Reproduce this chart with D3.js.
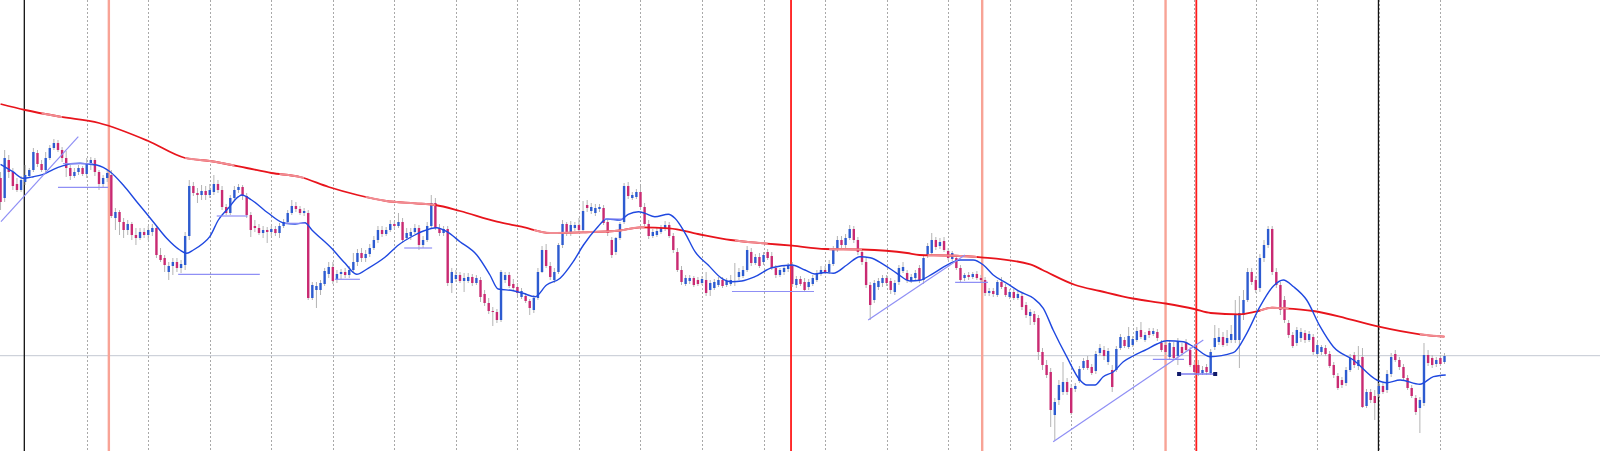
<!DOCTYPE html>
<html><head><meta charset="utf-8">
<script src="https://cdn.jsdelivr.net/npm/d3@7"></script>
<style>html,body{margin:0;padding:0;background:#fff;overflow:hidden}svg{display:block}</style>
</head><body><svg id="c" width="1600" height="451"></svg>
<script>
// price values (arbitrary points) per bar
const openP = [
322,302,340,328,316,310,318,324,330,347, 336,330,342,352,357,350,342,332,324,328,
332,326,337,340,328,316,322,325,282,288, 278,270,276,265,262,268,265,268,272,245,
242,228,234,238,232,235,264,314,307,305, 309,305,308,316,310,293,287,302,310,313,
304,285,274,272,267,270,268,271,267,274, 278,287,294,291,287,287,202,210,210,216,
226,233,220,226,228,225,230,238,247,242, 246,252,260,270,266,270,276,274,278,262,
264,268,272,255,260,274,297,272,267,271, 217,221,225,219,219,223,217,220,206,197,
189,188,180,220,225,216,213,203,204,199, 190,202,228,250,234,220,228,255,276,267,
272,275,270,295,289,287,291,292,278,260, 248,262,278,314,302,303,308,293,276,264,
265,268,271,275,264,248,230,216,219,222, 220,217,220,210,212,215,220,215,216,219,
223,224,230,248,237,243,238,248,244,232, 225,228,231,234,215,221,218,213,216,220,
226,230,228,236,250,260,255,262,271,260, 248,238,215,200,213,217,222,219,208,218,
229,227,219,222,232,220,244,247,260,254, 259,249,241,242,232,222,225,223,226,222,
220,207,209,205,218,213,203,208,202,204, 195,184,186,182,148,135,128,85,100,108,
118,112,111,119,132,140,133,129,147,150, 138,130,130,152,160,153,155,160,170,160,
169,166,168,157,155,143,153,144,153,158, 150,135,135,127,133,127,153,158,163,157,
160,160,160,185,200,228,220,212,242,255, 271,228,215,200,177,165,157,162,167,160,
163,146,148,152,146,135,124,120,117,130, 145,134,143,94,108,104,106,114,110,126,
146,140,133,122,112,102,92,97,145,142, 136,142,138];
const highP = [
328,350,345,332,322,324,335,332,352,350, 340,348,355,361,360,353,349,335,332,335,
334,342,343,342,330,325,330,330,292,290, 282,280,278,272,272,272,274,276,274,252,
245,238,242,242,240,268,320,318,312,315, 314,316,325,320,314,296,305,314,316,315,
307,288,280,276,274,273,274,274,277,281, 290,300,298,294,292,290,218,218,220,232,
238,238,230,231,232,234,247,251,252,250, 256,264,274,274,273,280,279,287,282,272,
272,276,275,264,278,305,302,276,274,274, 232,230,228,227,227,226,225,223,210,202,
193,191,230,228,228,221,217,212,207,201, 205,232,254,256,238,232,257,280,278,279,
278,282,299,300,297,296,296,295,281,263, 263,278,317,318,308,311,314,297,280,271,
272,275,279,278,267,252,234,225,225,224, 223,224,228,220,221,223,223,222,225,237,
232,234,254,252,246,247,248,251,248,235, 232,235,237,238,224,224,222,221,225,230,
234,234,240,254,264,264,266,275,274,263, 251,242,218,220,222,225,225,222,220,235,
238,230,226,230,235,245,257,267,263,262, 263,252,249,245,235,227,228,228,229,225,
223,212,212,220,223,216,211,211,209,207, 198,191,189,185,152,140,132,102,120,138,
122,116,117,134,142,144,136,149,156,154, 152,135,154,166,163,173,164,173,178,168,
172,172,171,160,159,160,158,162,157,161, 153,138,140,134,136,151,175,172,168,170,
175,200,204,210,232,232,224,246,260,274, 274,232,218,204,180,168,173,172,170,169,
166,158,155,155,149,138,127,123,133,146, 148,154,152,111,111,110,117,118,130,147,
150,143,136,125,115,105,103,157,150,145, 143,145,147];
const lowP = [
290,298,322,310,308,308,315,322,328,333, 328,328,340,350,348,338,323,320,322,325,
324,322,330,324,310,312,318,282,270,265, 262,265,260,255,260,262,260,264,242,238,
228,220,225,228,227,230,260,304,297,300, 300,302,305,307,290,285,285,300,307,300,
282,263,268,265,262,257,264,264,262,272, 276,285,288,285,284,200,200,192,205,214,
222,216,217,221,222,222,228,234,238,238, 243,250,257,263,264,268,271,272,257,260,
260,266,250,252,258,272,270,264,264,214, 207,218,217,208,217,214,215,198,194,186,
174,177,178,217,212,209,204,201,197,185, 187,200,227,232,220,217,226,252,264,264,
269,268,267,288,286,284,288,275,264,242, 245,260,276,301,300,301,290,274,261,262,
263,266,269,262,247,228,215,214,216,213, 214,215,204,204,210,213,212,213,214,214,
220,222,228,234,235,232,235,240,230,222, 223,225,228,213,212,214,208,210,214,218,
224,226,226,234,248,252,252,260,257,245, 235,212,180,197,210,213,214,206,205,215,
227,217,217,219,217,216,242,245,250,251, 248,240,239,230,218,219,220,221,220,217,
204,204,203,203,211,203,201,200,200,190, 182,175,175,140,130,122,73,60,95,105,
105,85,108,117,130,130,125,126,145,140, 135,108,128,150,152,151,153,158,161,158,
162,164,159,148,145,141,140,135,144,148, 133,125,124,125,125,125,150,155,153,154,
157,157,132,180,198,215,207,208,238,252, 225,212,185,177,162,152,154,158,157,158,
145,143,145,144,132,122,110,112,114,128, 132,130,92,92,97,80,103,106,107,123,
138,130,120,110,102,85,67,94,134,132, 133,134,136];
const closeP = [
298,342,328,314,310,320,325,330,348,336, 330,342,352,357,350,342,332,324,328,332,
326,337,340,328,316,322,327,284,288,278, 270,276,265,262,268,265,270,272,245,240,
235,234,238,232,236,264,314,307,305,309, 305,310,316,310,293,287,302,310,313,304,
285,270,272,267,270,268,271,267,274,278, 287,294,291,287,289,202,215,214,217,229,
233,219,226,228,225,230,238,247,242,246, 252,260,270,266,270,276,274,278,260,267,
268,272,255,260,274,297,272,267,271,217, 228,225,219,222,223,217,222,203,197,189,
188,180,228,225,214,212,207,209,199,192, 202,228,250,234,223,228,255,276,267,275,
275,270,289,292,293,292,293,277,267,245, 262,276,314,304,305,308,293,276,264,268,
269,272,275,264,250,230,218,222,222,215, 216,221,207,217,218,220,214,219,220,218,
228,230,250,237,243,234,245,242,232,225, 230,232,234,216,221,216,210,218,222,227,
230,228,236,250,260,255,262,271,260,248, 238,215,195,217,219,222,217,210,217,232,
233,220,223,227,220,242,254,260,253,258, 250,242,247,232,220,225,223,226,222,220,
207,209,206,218,213,205,208,202,206,193, 185,188,178,148,135,125,90,98,115,118,
108,87,114,131,139,132,127,146,152,144, 149,113,151,163,154,164,161,169,163,165,
165,169,162,150,148,157,142,158,147,150, 135,128,127,130,128,148,162,163,155,162,
166,185,187,200,228,218,210,242,255,271, 228,215,190,180,165,154,170,168,160,166,
148,155,153,146,134,125,112,115,130,142, 135,140,93,108,100,97,114,108,126,143,
140,133,122,112,104,88,100,145,137,135, 140,136,144];

// fast moving average (blue), sampled at bar positions
const blueIdx = [0,3,5.5,8,10.4,12.9,15.3,17,19.4,21.8,23.4,26.7,29.9,33.2,37.2,40.5,43.7,45.4,47,49.4,51,53.1,55.5,58,58.8,61.2,65.3,69.3,71.8,74.2,75.9,80.7,84,86.8,89.6,93.7,97,101,103.1,106.3,108.8,112,116.1,119.3,121.3,125,127.4,130.3,133.1,136.4,139.6,142.1,145.3,147.8,151,153,155.5,157.1,159.5,162.8,164.4,166.9,169.3,172.5,175.8,178.2,180.7,183.9,188,192.9,196.1,198.5,201,203,206.3,209.5,212,215.2,218.5,221.7,224.1,227.4,231.5,233.9,237.1,239.6,242,245.3,248.5,251.8,254.2,256.6,259.9,263.1,264.8,266.8,268.8,271.3,273.7,276.1,279.4,281.9,284.3,288.3,290.8,294.8,300.5,303.8,307,310.3,312.7,315.2,318.4,321.7,324.9,329.8,335.5,337.9,341.2,346,349.3,352.3];
const blueVal = [335.7,328.3,321.7,323.3,325.7,330.7,334.3,336.3,336.7,335.7,335,328.3,315,298.3,278.3,261.7,250,246.7,250,256.7,263.3,280,291.7,303.3,305,300,286.7,276.7,276,277.3,270,251.7,236.7,225.7,231.7,242.7,255,265,269,272.3,268.3,258.3,245,225,211,209.3,206.7,203.3,215,221.7,238.3,255,271.7,281,280,285.7,288.3,286.7,283.3,285.7,281.7,266.7,248.3,235,221.7,218.3,219,223.3,232.3,235,230,226,227.5,226.7,235,243.3,242.3,235.7,226.7,219,219.7,226.7,236.7,240,240,235,225,216.7,208.3,201.7,191.7,170,143.3,120,115,115,123.3,128.3,138.3,144,150.7,156,159.3,158.3,153.3,143.3,147.3,166.7,193.3,214,220,213.3,200,173.3,153.3,140,120,117.3,120,115.7,123.3,125];

// slow moving average (red)
const redIdx = [0,6,14.5,24,36,45,51,60,66,73,80,87,94,101,106,112,121,127,134,142,151,156,163,170,178,186,193,201,210,221,224,231,239,251,254,262,268,276,284,291,295,302,306,310,313,320,328,336,346,352];
const redVal = [396,390,383.3,377,359,342,339,332,327,323,313,305,299,296.7,295,289,278.3,273.3,267,267.7,269.5,272.7,271.7,266,260,256.7,254.3,251,250.5,247,245,244.5,242.7,235.7,230,215,209,201.5,196.5,191,187,185.7,188.3,192.3,191.7,189,181.7,173.3,165.7,163.3];
const redPaleRanges = [[10,15],[45,57],[68,74],[89,106],[130,157],[179,187],[202,210],[226,238],[307,314],[346,352]];

// drawn objects: trendlines / levels [bar1, price1, bar2, price2]
const trendLines = [
  [0.1,278.3,18.95,363.3],
  [14,312.7,26.2,312.7],
  [15.2,336.3,22.5,336.3],
  [43.3,225.7,63.2,225.7],
  [52.7,284,60.2,284],
  [69.3,276.7,74.2,276.7],
  [81.5,220.7,87.6,220.7],
  [98.4,252,105.2,252],
  [147.1,281,151.7,281],
  [178.3,208.5,198.3,208.5],
  [211.5,180,235.1,245],
  [232.7,217.7,240.7,217.7],
  [256.6,58.3,293.2,160],
  [280.9,140.7,288.5,140.7]
];
const markedLevel = [287.3,126,296.1,126];
const bidLevel = 144.3;
// vertical event markers [bar, kind]
const eventBars = [[5.79,'black'],[26.4,'pale'],[192.7,'red'],[239.3,'pale'],[284.0,'pale'],[291.5,'red'],[335.9,'black']];
const gridBars = d3.range(21, 353, 15);

const W = 1600, H = 451;
const svg = d3.select('#c');
const x = d3.scaleLinear().domain([0, 352]).range([0.56, 1444.5]);
const y = d3.scaleLinear().domain([49, 500]).range([H, 0]);

// grid
svg.append('g').selectAll('line').data(gridBars).join('line')
  .attr('x1', d => Math.round(x(d)) + 0.5).attr('x2', d => Math.round(x(d)) + 0.5)
  .attr('y1', 0).attr('y2', H)
  .attr('stroke', '#a9a9a9').attr('stroke-width', 1).attr('stroke-dasharray', '2,2');

// bid line
svg.append('line').attr('x1', 0).attr('x2', W).attr('y1', y(bidLevel)).attr('y2', y(bidLevel))
  .attr('stroke', '#c3c8d2').attr('stroke-width', 1);

// event lines
const evStyle = {black: ['#111', 1.3], red: ['#ff1a1a', 1.8], pale: ['#f8a396', 2.4]};
svg.append('g').selectAll('line').data(eventBars).join('line')
  .attr('x1', d => x(d[0])).attr('x2', d => x(d[0]))
  .attr('y1', 0).attr('y2', H)
  .attr('stroke', d => evStyle[d[1]][0]).attr('stroke-width', d => evStyle[d[1]][1]);

// candles
const bars = d3.range(openP.length).map(i => ({i, o: openP[i], h: highP[i], l: lowP[i], c: closeP[i]}));
const g = svg.append('g');
g.selectAll('line.w').data(bars).join('line').attr('class', 'w')
  .attr('x1', d => x(d.i)).attr('x2', d => x(d.i))
  .attr('y1', d => y(Math.max(d.h, d.o, d.c))).attr('y2', d => y(Math.min(d.l, d.o, d.c)))
  .attr('stroke', '#b4b4b4').attr('stroke-width', 1);
g.selectAll('rect').data(bars).join('rect')
  .attr('x', d => x(d.i) - 1.2).attr('width', 2.4)
  .attr('y', d => y(Math.max(d.o, d.c)))
  .attr('height', d => Math.max(1, Math.abs(y(d.o) - y(d.c))))
  .attr('fill', d => d.c >= d.o ? '#2d5bd0' : '#c92a72');

// moving averages
const redPts = redIdx.map((d, k) => [d, redVal[k]]);
const bluePts = blueIdx.map((d, k) => [d, blueVal[k]]);
const line = d3.line().x(d => x(d[0])).y(d => y(d[1])).curve(d3.curveMonotoneX);
const defs = svg.append('defs');
const cp = defs.append('clipPath').attr('id', 'pale');
cp.selectAll('rect').data(redPaleRanges).join('rect')
  .attr('x', d => x(d[0])).attr('width', d => x(d[1]) - x(d[0]))
  .attr('y', 0).attr('height', H);
svg.append('path').attr('d', line(redPts)).attr('fill', 'none')
  .attr('stroke', '#e8141c').attr('stroke-width', 1.8);
svg.append('path').attr('d', line(redPts)).attr('fill', 'none')
  .attr('stroke', '#f08c92').attr('stroke-width', 2).attr('clip-path', 'url(#pale)');
svg.append('path').attr('d', line(bluePts)).attr('fill', 'none')
  .attr('stroke', '#1f48e0').attr('stroke-width', 1.4);

// trendlines
svg.append('g').selectAll('line').data(trendLines).join('line')
  .attr('x1', d => x(d[0])).attr('y1', d => y(d[1]))
  .attr('x2', d => x(d[2])).attr('y2', d => y(d[3]))
  .attr('stroke', '#8f8ff5').attr('stroke-width', 1.2);
svg.append('line')
  .attr('x1', x(markedLevel[0])).attr('y1', y(markedLevel[1]))
  .attr('x2', x(markedLevel[2])).attr('y2', y(markedLevel[3]))
  .attr('stroke', '#7b7bf0').attr('stroke-width', 1.3);
svg.append('g').selectAll('rect').data([[markedLevel[0], markedLevel[1]], [markedLevel[2], markedLevel[3]]]).join('rect')
  .attr('x', d => x(d[0]) - 2).attr('y', d => y(d[1]) - 2).attr('width', 4).attr('height', 4)
  .attr('fill', '#101a6a');
</script>
</body></html>
